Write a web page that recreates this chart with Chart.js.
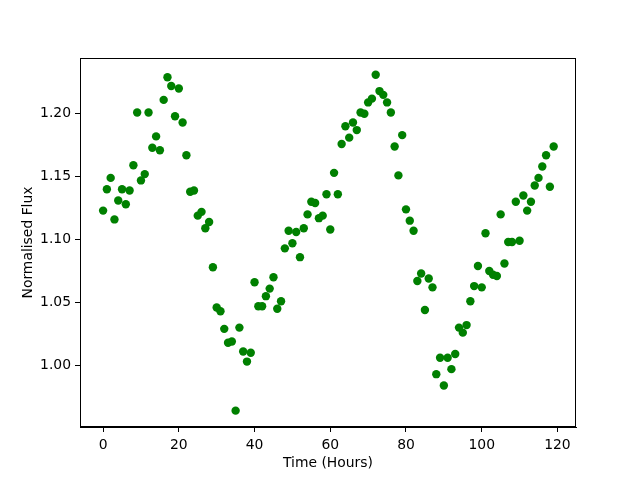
<!DOCTYPE html>
<html>
<head>
<meta charset="utf-8">
<script src="https://cdn.jsdelivr.net/npm/chart.js@4/dist/chart.umd.min.js"></script>
<style>
  html, body { margin: 0; padding: 0; background: #fff; }
  #wrap { width: 640px; height: 480px; }
</style>
</head>
<body>
<div id="wrap"><canvas id="flux-chart" width="640" height="480"></canvas></div>
<script>
// time in hours, one reading per hour
var hours = [];
for (var h = 0; h < 120; h++) hours.push(h);

// normalised flux
var flux = [
	1.123, 1.140, 1.149, 1.116, 1.131, 1.140, 1.128, 1.139, 1.159, 1.201,
	1.147, 1.152, 1.201, 1.173, 1.182, 1.171, 1.211, 1.229, 1.222, 1.198,
	1.220, 1.193, 1.167, 1.138, 1.139, 1.119, 1.122, 1.109, 1.114, 1.078,
	1.046, 1.043, 1.029, 1.018, 1.019, 0.964, 1.030, 1.011, 1.003, 1.010,
	1.066, 1.047, 1.047, 1.055, 1.061, 1.070, 1.045, 1.051, 1.093, 1.107,
	1.097, 1.106, 1.086, 1.109, 1.120, 1.130, 1.129, 1.117, 1.119, 1.136,
	1.108, 1.153, 1.136, 1.176, 1.190, 1.181, 1.193, 1.187, 1.201, 1.200,
	1.209, 1.212, 1.231, 1.218, 1.215, 1.209, 1.201, 1.174, 1.151, 1.183,
	1.124, 1.115, 1.107, 1.067, 1.073, 1.044, 1.069, 1.062, 0.993, 1.006,
	0.984, 1.006, 0.997, 1.009, 1.030, 1.026, 1.032, 1.051, 1.063, 1.079,
	1.062, 1.105, 1.075, 1.072, 1.071, 1.120, 1.081, 1.098, 1.098, 1.130,
	1.099, 1.135, 1.123, 1.130, 1.143, 1.149, 1.158, 1.167, 1.142, 1.174
];

var xTicks = [0, 20, 40, 60, 80, 100, 120];
var yTicks = [1.00, 1.05, 1.10, 1.15, 1.20];

var points = hours.map(function (t, i) { return { x: t, y: flux[i] }; });

// matplotlib style frame round the plot area
var frame = {
	id: 'frame',
	afterDraw: function (chart) {
		var a = chart.chartArea, ctx = chart.ctx;
		ctx.save();
		ctx.strokeStyle = '#000';
		ctx.lineWidth = 1;
		ctx.strokeRect(Math.round(a.left) + 0.5, Math.round(a.top) + 0.5,
			Math.round(a.right - a.left) - 1, Math.round(a.bottom - a.top) - 1);
		ctx.restore();
	}
};

var font = { family: 'DejaVu Sans', size: 13.9 };

new Chart(document.getElementById('flux-chart').getContext('2d'), {
	type: 'scatter',
	data: {
		datasets: [{
			data: points,
			backgroundColor: '#008000',
			borderColor: '#008000',
			pointRadius: 4.2,
			pointHoverRadius: 4.2,
			borderWidth: 0
		}]
	},
	options: {
		responsive: false,
		animation: false,
		events: [],
		layout: { padding: { top: 58, right: 64, left: 0, bottom: 0 } },
		plugins: { legend: { display: false }, tooltip: { enabled: false } },
		scales: {
			x: {
				type: 'linear',
				min: -6.1,
				max: 124.9,
				afterBuildTicks: function (s) { s.ticks = xTicks.map(function (v) { return { value: v }; }); },
				afterFit: function (s) { s.height = 53; },
				grid: { drawOnChartArea: false, color: '#000', tickLength: 5, tickWidth: 1 },
				border: { color: '#000', width: 1 },
				ticks: { color: '#000', font: font, padding: 5, maxRotation: 0 },
				title: { display: true, text: 'Time (Hours)', color: '#000', font: font, padding: { top: 0, bottom: 8 } }
			},
			y: {
				type: 'linear',
				min: 0.9510,
				max: 1.2443,
				afterBuildTicks: function (s) { s.ticks = yTicks.map(function (v) { return { value: v }; }); },
				afterFit: function (s) { s.width = 80; },
				grid: { drawOnChartArea: false, color: '#000', tickLength: 5, tickWidth: 1 },
				border: { color: '#000', width: 1 },
				ticks: {
					color: '#000', font: font, padding: 4,
					callback: function (v) { return v.toFixed(2); }
				},
				title: { display: true, text: 'Normalised Flux', color: '#000', font: font, padding: { top: 20, bottom: 0 } }
			}
		}
	},
	plugins: [frame]
});
</script>
</body>
</html>
